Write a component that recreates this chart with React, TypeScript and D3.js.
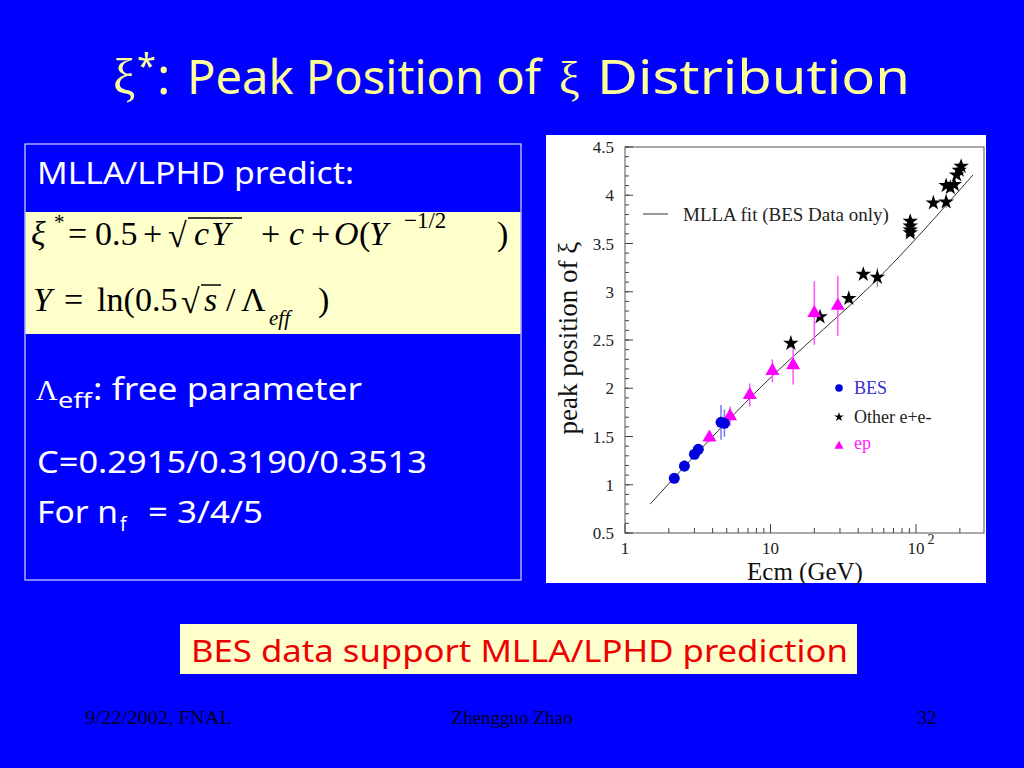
import React from 'react';
import * as d3 from 'd3';

// values
const besE = [2.18, 2.56, 3.0, 3.19, 4.57, 4.82];
const besXi = [1.067, 1.194, 1.316, 1.367, 1.647, 1.637];
const besErr = [0.03, 0.06, 0.04, 0.04, 0.18, 0.14];

const epE = [3.8, 5.27, 7.2, 10.3, 14.3, 20, 29];
const epXi = [1.49, 1.71, 1.93, 2.18, 2.24, 2.78, 2.855];
const epErr = [0.05, 0.1, 0.12, 0.12, 0.2, 0.33, 0.31];

const otherE = [13.8, 21.9, 34.5, 43.4, 54.2, 91.2, 91.2, 91.2, 91.2, 131.5, 161, 161, 172, 183, 190, 198, 204];
const otherXi = [2.466, 2.74, 2.93, 3.18, 3.15, 3.73, 3.68, 3.64, 3.61, 3.92, 3.93, 4.10, 4.08, 4.11, 4.21, 4.26, 4.30];
const otherErr = [0.05, 0.04, 0.05, 0.03, 0.1, 0.03, 0.03, 0.03, 0.03, 0.04, 0.06, 0.03, 0.03, 0.03, 0.03, 0.03, 0.03];

const fitE = [1.49, 3.0, 8.7, 61.2, 246];
const fitXi = [0.8, 1.3, 2.02, 3.21, 4.21];

const yTicks = [0.5, 1, 1.5, 2, 2.5, 3, 3.5, 4, 4.5];
const yTickLabels = ['0.5', '1', '1.5', '2', '2.5', '3', '3.5', '4', '4.5'];

const comic = "'Noto Sans', sans-serif";
const serif = "'Liberation Serif', 'Times New Roman', serif";

const App: React.FC = () => {
    const x = d3.scaleLog().domain([1, 293]).range([625, 984]);
    const y = d3.scaleLinear().domain([0.5, 4.5]).range([533, 147]);

    const minorY = d3.range(0.5, 4.5001, 0.1);
    const minorX: number[] = [];
    [1, 10, 100].forEach(d => {
        for (let k = 2; k <= 9; k++) if (d * k < 293) minorX.push(d * k);
    });

    const star = d3.symbol().type(d3.symbolStar).size(75)();
    const tri = d3.symbol().type(d3.symbolTriangle).size(85)();
    const starSmall = d3.symbol().type(d3.symbolStar).size(28)();
    const triSmall = d3.symbol().type(d3.symbolTriangle).size(36)();

    const fitLine = d3.line<number>()
        .x((d, i) => x(fitE[i]))
        .y(d => y(d))
        .curve(d3.curveMonotoneX)(fitXi);

    return (
        <div style={{ position: 'absolute', left: 0, top: 0 }}>
            <svg width={1024} height={768}>
                <rect width={1024} height={768} fill="#0000ff" />

                {/* title */}
                <g fill="#ffff99">
                    <text x={113} y={94} fontFamily={serif} fontSize={50}>ξ</text>
                    <text x={137} y={78} fontFamily={comic} fontSize={34}>*</text>
                    <text x={157} y={94} fontFamily={comic} fontSize={50}>:</text>
                    <text x={187} y={94} fontFamily={comic} fontSize={48} textLength={354} lengthAdjust="spacingAndGlyphs">Peak Position of</text>
                    <text x={559} y={94} fontFamily={serif} fontSize={46}>ξ</text>
                    <text x={597} y={94} fontFamily={comic} fontSize={48} textLength={313} lengthAdjust="spacingAndGlyphs">Distribution</text>
                </g>

                {/* left box */}
                <rect x={25} y={144} width={496} height={436} fill="none" stroke="#d8d8ff" strokeWidth={1.2} />
                <rect x={25.5} y={212} width={495} height={122} fill="#ffffcc" />
                <g fill="#ffffff" fontFamily={comic} fontSize={30}>
                    <text x={37} y={184} textLength={317} lengthAdjust="spacingAndGlyphs">MLLA/LPHD predict:</text>
                    <text x={36} y={400} fontFamily={serif}>Λ</text>
                    <text x={58} y={408} fontSize={21} textLength={34} lengthAdjust="spacingAndGlyphs">eff</text>
                    <text x={93} y={400} textLength={269} lengthAdjust="spacingAndGlyphs">: free parameter</text>
                    <text x={37} y={473} textLength={390} lengthAdjust="spacingAndGlyphs">C=0.2915/0.3190/0.3513</text>
                    <text x={37} y={523} textLength={81} lengthAdjust="spacingAndGlyphs">For n</text>
                    <text x={120} y={531} fontSize={19}>f</text>
                    <text x={148} y={523} textLength={115} lengthAdjust="spacingAndGlyphs">= 3/4/5</text>
                </g>

                {/* formulas */}
                <g fill="#000000" fontFamily={serif} fontSize={34}>
                    <text x={31} y={245} fontStyle="italic">ξ</text>
                    <text x={54} y={229} fontSize={21}>*</text>
                    <text x={68} y={245}>=</text>
                    <text x={95} y={245}>0.5</text>
                    <text x={143} y={245}>+</text>
                    <text x={168} y={247}>√</text>
                    <line x1={188} x2={242} y1={218} y2={218} stroke="#000" strokeWidth={1.5} />
                    <text x={194} y={245} fontStyle="italic">c</text>
                    <text x={211} y={245} fontStyle="italic">Y</text>
                    <text x={261} y={245}>+</text>
                    <text x={289} y={245} fontStyle="italic">c</text>
                    <text x={311} y={245}>+</text>
                    <text x={334} y={245} fontStyle="italic">O</text>
                    <text x={359} y={245}>(</text>
                    <text x={369} y={245} fontStyle="italic">Y</text>
                    <text x={404} y={228} fontSize={23}>−1/2</text>
                    <text x={497} y={245}>)</text>

                    <text x={33} y={311} fontStyle="italic">Y</text>
                    <text x={64} y={311}>=</text>
                    <text x={97} y={311}>ln(</text>
                    <text x={135} y={311}>0.5</text>
                    <text x={181} y={313}>√</text>
                    <line x1={201} x2={221} y1={285} y2={285} stroke="#000" strokeWidth={1.5} />
                    <text x={204} y={311} fontStyle="italic">s</text>
                    <text x={226} y={311}>/</text>
                    <text x={241} y={311}>Λ</text>
                    <text x={269} y={325} fontSize={21} fontStyle="italic">eff</text>
                    <text x={318} y={311}>)</text>
                </g>

                {/* chart panel */}
                <rect x={546} y={135} width={440} height={448} fill="#ffffff" />
                <rect x={625} y={147} width={359} height={386} fill="none" stroke="#555" strokeWidth={1} />

                {/* y ticks */}
                {minorY.map((v, i) => (
                    <line key={'my' + i} x1={625} x2={629} y1={y(v)} y2={y(v)} stroke="#444" />
                ))}
                {yTicks.map((v, i) => (
                    <g key={'y' + i}>
                        <line x1={625} x2={633} y1={y(v)} y2={y(v)} stroke="#444" />
                        <text x={614} y={y(v) + 6} textAnchor="end" fontFamily={serif} fontSize={17} fill="#222">{yTickLabels[i]}</text>
                    </g>
                ))}

                {/* x ticks */}
                {minorX.map((v, i) => (
                    <line key={'mx' + i} x1={x(v)} x2={x(v)} y1={533} y2={528} stroke="#444" />
                ))}
                {[1, 10, 100].map(v => (
                    <line key={'x' + v} x1={x(v)} x2={x(v)} y1={533} y2={524} stroke="#444" />
                ))}
                <g fontFamily={serif} fontSize={17} fill="#222" textAnchor="middle">
                    <text x={x(1)} y={554}>1</text>
                    <text x={x(10)} y={554}>10</text>
                    <text x={x(100)} y={554}>10</text>
                    <text x={x(100) + 15} y={544} fontSize={14}>2</text>
                </g>

                <text x={805} y={580} textAnchor="middle" fontFamily={serif} fontSize={25} fill="#111">Ecm (GeV)</text>
                <text transform="translate(577,338) rotate(-90)" textAnchor="middle" fontFamily={serif} fontSize={27} fill="#111">peak position of ξ</text>

                {/* fit */}
                <path d={fitLine || ''} fill="none" stroke="#333" strokeWidth={1} />
                <line x1={643} x2={668} y1={214} y2={214} stroke="#333" />
                <text x={683} y={221} fontFamily={serif} fontSize={19} fill="#222">MLLA fit (BES Data only)</text>

                {/* error bars */}
                {otherE.map((e, i) => (
                    <line key={'oe' + i} x1={x(e)} x2={x(e)} y1={y(otherXi[i] - otherErr[i])} y2={y(otherXi[i] + otherErr[i])} stroke="#777" strokeWidth={1} />
                ))}
                {epE.map((e, i) => (
                    <line key={'ee' + i} x1={x(e)} x2={x(e)} y1={y(epXi[i] - epErr[i])} y2={y(epXi[i] + epErr[i])} stroke="#ff55ff" strokeWidth={1.5} />
                ))}
                {besE.map((e, i) => (
                    <line key={'be' + i} x1={x(e)} x2={x(e)} y1={y(besXi[i] - besErr[i])} y2={y(besXi[i] + besErr[i])} stroke="#7777ee" strokeWidth={1.5} />
                ))}

                {/* points */}
                {otherE.map((e, i) => (
                    <path key={'o' + i} d={star || ''} transform={`translate(${x(e)},${y(otherXi[i])})`} fill="#000" />
                ))}
                {epE.map((e, i) => (
                    <path key={'p' + i} d={tri || ''} transform={`translate(${x(e)},${y(epXi[i])})`} fill="#ff00ff" />
                ))}
                {besE.map((e, i) => (
                    <circle key={'b' + i} cx={x(e)} cy={y(besXi[i])} r={5.5} fill="#0000dd" />
                ))}

                {/* legend */}
                <circle cx={839} cy={388} r={3.8} fill="#0000dd" />
                <text x={854} y={394} fontFamily={serif} fontSize={18} fill="#3333cc">BES</text>
                <path d={starSmall || ''} transform="translate(839,417)" fill="#000" />
                <text x={854} y={423} fontFamily={serif} fontSize={18} fill="#222">Other e+e-</text>
                <path d={triSmall || ''} transform="translate(839,446)" fill="#ff00ff" />
                <text x={854} y={449} fontFamily={serif} fontSize={18} fill="#ff22ff">ep</text>

                {/* conclusion */}
                <rect x={180} y={624} width={677} height={50} fill="#ffffcc" />
                <text x={191} y={662} fontFamily={comic} fontSize={30} fill="#ee0000" textLength={657} lengthAdjust="spacingAndGlyphs">BES data support MLLA/LPHD prediction</text>

                {/* footer */}
                <g fontFamily={serif} fontSize={19} fill="#000022">
                    <text x={85} y={724} textLength={147} lengthAdjust="spacingAndGlyphs">9/22/2002, FNAL</text>
                    <text x={512} y={724} textAnchor="middle">Zhengguo Zhao</text>
                    <text x={927} y={724} textAnchor="middle">32</text>
                </g>
            </svg>
        </div>
    );
};

export default App;
